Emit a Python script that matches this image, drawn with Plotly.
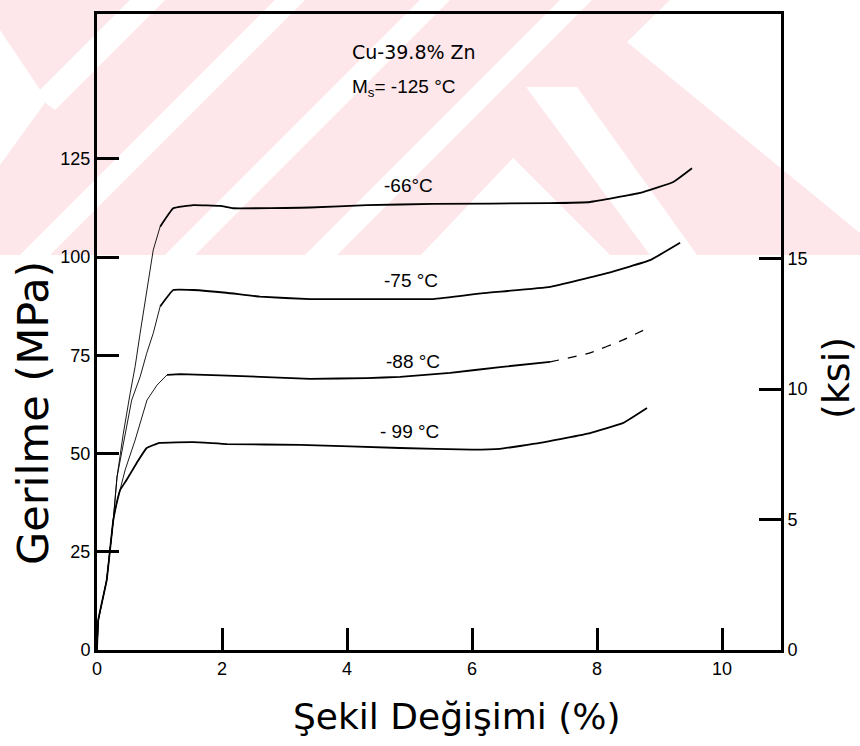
import plotly.graph_objects as go

# ---------------- data (strain %, stress MPa) ----------------
x_m66 = [0, 0.02, 0.155, 0.26, 0.32, 0.42, 0.53, 0.61, 0.69, 0.795, 0.9, 1.01, 1.22, 1.54, 1.97, 2.18, 3.41, 4.32, 5.38, 7.25, 7.89, 8.69, 9.22, 9.52]
y_m66 = [0, 7.6, 17.8, 33, 44, 55, 65.3, 72.1, 80.6, 90.8, 101.8, 107.7, 112.4, 113.2, 113.0, 112.4, 112.6, 113.2, 113.5, 113.7, 114.0, 116.3, 119.1, 122.6]

x_m75 = [0, 0.02, 0.155, 0.26, 0.32, 0.45, 0.555, 0.69, 0.795, 0.9, 1.01, 1.22, 1.54, 2.07, 2.61, 3.41, 4.32, 5.38, 6.18, 7.25, 8.16, 8.85, 9.33]
y_m75 = [0, 7.6, 17.8, 33, 44, 55, 63.6, 69.5, 75.5, 80.6, 87.4, 91.6, 91.6, 90.9, 89.9, 89.3, 89.3, 89.3, 90.8, 92.4, 95.9, 99.2, 103.6]

x_m88 = [0, 0.02, 0.155, 0.26, 0.315, 0.37, 0.45, 0.61, 0.8, 0.96, 1.12, 1.33, 2.61, 3.41, 4.32, 4.85, 5.65, 6.45, 7.25, 7.89, 8.42, 8.85]
y_m88 = [0, 7.6, 17.8, 33, 37.4, 40.7, 45.8, 53.4, 63.6, 67.4, 70.0, 70.2, 69.5, 69.0, 69.2, 69.5, 70.5, 72.0, 73.3, 75.6, 78.9, 82.2]

x_m99 = [0, 0.02, 0.155, 0.26, 0.315, 0.37, 0.475, 0.635, 0.795, 1.0, 1.54, 2.08, 3.25, 4.85, 6.0, 6.45, 7.09, 7.89, 8.42, 8.8]
y_m99 = [0, 7.6, 17.8, 33, 37.4, 40.7, 43.3, 47.6, 51.4, 52.7, 52.9, 52.4, 52.2, 51.4, 51.0, 51.2, 52.7, 55.2, 57.8, 61.6]

curve_labels = ["-66°C", "-75 °C", "-88 °C", "- 99 °C"]
label_x = [4.98, 5.02, 5.06, 5.0]
label_y = [118.1, 94.1, 73.3, 55.5]

x_ticks = [0, 2, 4, 6, 8, 10]
y_ticks = [0, 25, 50, 75, 100, 125]
ksi_ticks = [0, 5, 10, 15]

alloy_text = "Cu-39.8% Zn"
ms_text = "M<sub>s</sub>= -125 °C"
x_title = "Şekil Değişimi (%)"
y_title = "Gerilme (MPa)"
y2_title = "(ksi)"

# ---------------- layout geometry ----------------
W, H = 860, 746
L, R, T, B = 97, 79, 14, 96
PW, PH = W - L - R, H - T - B
X_MAX = PW / 62.5
Y_MAX = PH / 3.93
KSI_MAX = PH / 26.1

def px(x):
    return (x - L) / PW

def py(y):
    return (H - B - y) / PH

PINK = "#fde7eb"

def poly(points, color):
    d = "M " + " L ".join(f"{px(a):.4f},{py(b):.4f}" for a, b in points) + " Z"
    return dict(type="path", xref="paper", yref="paper", path=d,
                fillcolor=color, line=dict(width=0), layer="below")

shapes = [
    poly([(0, 0), (860, 0), (860, 255), (0, 255)], PINK),
    poly([(0, 30), (47, 100), (0, 165)], "white"),
    poly([(35, 95), (130, 0), (165, 0), (55, 110)], "white"),
    poly([(20, 255), (275, 0), (305, 0), (50, 255)], "white"),
    poly([(165, 255), (420, 0), (450, 0), (195, 255)], "white"),
    poly([(305, 255), (560, 0), (592, 0), (337, 255)], "white"),
    poly([(513, 158), (421, 255), (610, 255)], "white"),
    poly([(526, 87), (577, 87), (697, 255), (650, 255)], "white"),
    poly([(670, 0), (860, 0), (860, 233), (627, 42)], "white"),
]

fig = go.Figure()

# (series, end index of the faint elastic part, start index of the faint tail)
series = [(x_m66, y_m66, 11, None), (x_m75, y_m75, 10, None),
          (x_m88, y_m88, 10, 18), (x_m99, y_m99, 0, None)]
for xs, ys, k, tail in series:
    if k > 0:
        fig.add_trace(go.Scatter(x=xs[:k + 1], y=ys[:k + 1], mode="lines",
                                 line=dict(color="black", width=0.9),
                                 showlegend=False, hoverinfo="skip"))
    end = tail + 1 if tail is not None else len(xs)
    fig.add_trace(go.Scatter(x=xs[k:end], y=ys[k:end], mode="lines",
                             line=dict(color="black", width=1.8, shape="spline", smoothing=0.3),
                             showlegend=False))
    if tail is not None:
        fig.add_trace(go.Scatter(x=xs[tail:], y=ys[tail:], mode="lines",
                                 line=dict(color="black", width=1.2, dash="dash",
                                           shape="spline", smoothing=0.3),
                                 showlegend=False))

# invisible trace for the ksi axis
fig.add_trace(go.Scatter(x=[0], y=[0], yaxis="y2", mode="markers",
                         marker=dict(opacity=0), showlegend=False, hoverinfo="skip"))

tick_font = dict(family="Liberation Sans, sans-serif", size=18, color="black")
text_font = dict(family="Liberation Sans, sans-serif", size=19, color="black")
alloy_font = dict(family="DejaVu Sans, sans-serif", size=19, color="black")

annotations = []
for t, lx, ly in zip(curve_labels, label_x, label_y):
    annotations.append(dict(x=lx, y=ly, xref="x", yref="y", text=t, showarrow=False,
                            font=text_font, xanchor="center", yanchor="middle"))
annotations.append(dict(x=4.05, y=152.2, xref="x", yref="y", text=alloy_text, showarrow=False,
                        font=alloy_font, xanchor="left", yanchor="middle"))
annotations.append(dict(x=4.05, y=143.0, xref="x", yref="y", text=ms_text, showarrow=False,
                        font=text_font, xanchor="left", yanchor="middle"))
# axis titles placed as annotations (paper coords)
annotations.append(dict(x=px(457), y=py(716), xref="paper", yref="paper", text=x_title,
                        showarrow=False, xanchor="center", yanchor="middle",
                        font=dict(family="DejaVu Sans, sans-serif", size=36, color="black")))
annotations.append(dict(x=px(33), y=py(413), xref="paper", yref="paper", text=y_title,
                        showarrow=False, xanchor="center", yanchor="middle", textangle=-90,
                        font=dict(family="DejaVu Sans, sans-serif", size=43, color="black")))
annotations.append(dict(x=px(836), y=py(378), xref="paper", yref="paper", text=y2_title,
                        showarrow=False, xanchor="center", yanchor="middle", textangle=-90,
                        font=dict(family="DejaVu Sans, sans-serif", size=38, color="black")))

axis_common = dict(ticks="inside", ticklen=22, tickwidth=2.5, tickcolor="black",
                   showline=True, linecolor="black", linewidth=3,
                   showgrid=False, zeroline=False, tickfont=tick_font)

fig.update_layout(
    width=W, height=H,
    margin=dict(l=L, r=R, t=T, b=B),
    paper_bgcolor="white",
    plot_bgcolor="rgba(0,0,0,0)",
    shapes=shapes,
    annotations=annotations,
    showlegend=False,
    xaxis=dict(range=[0, X_MAX], tickvals=x_ticks, mirror=True, **axis_common),
    yaxis=dict(range=[0, Y_MAX], tickvals=y_ticks, **axis_common),
    yaxis2=dict(range=[0, KSI_MAX], tickvals=ksi_ticks, overlaying="y", side="right",
                **axis_common),
)

fig.write_html("out.html")
